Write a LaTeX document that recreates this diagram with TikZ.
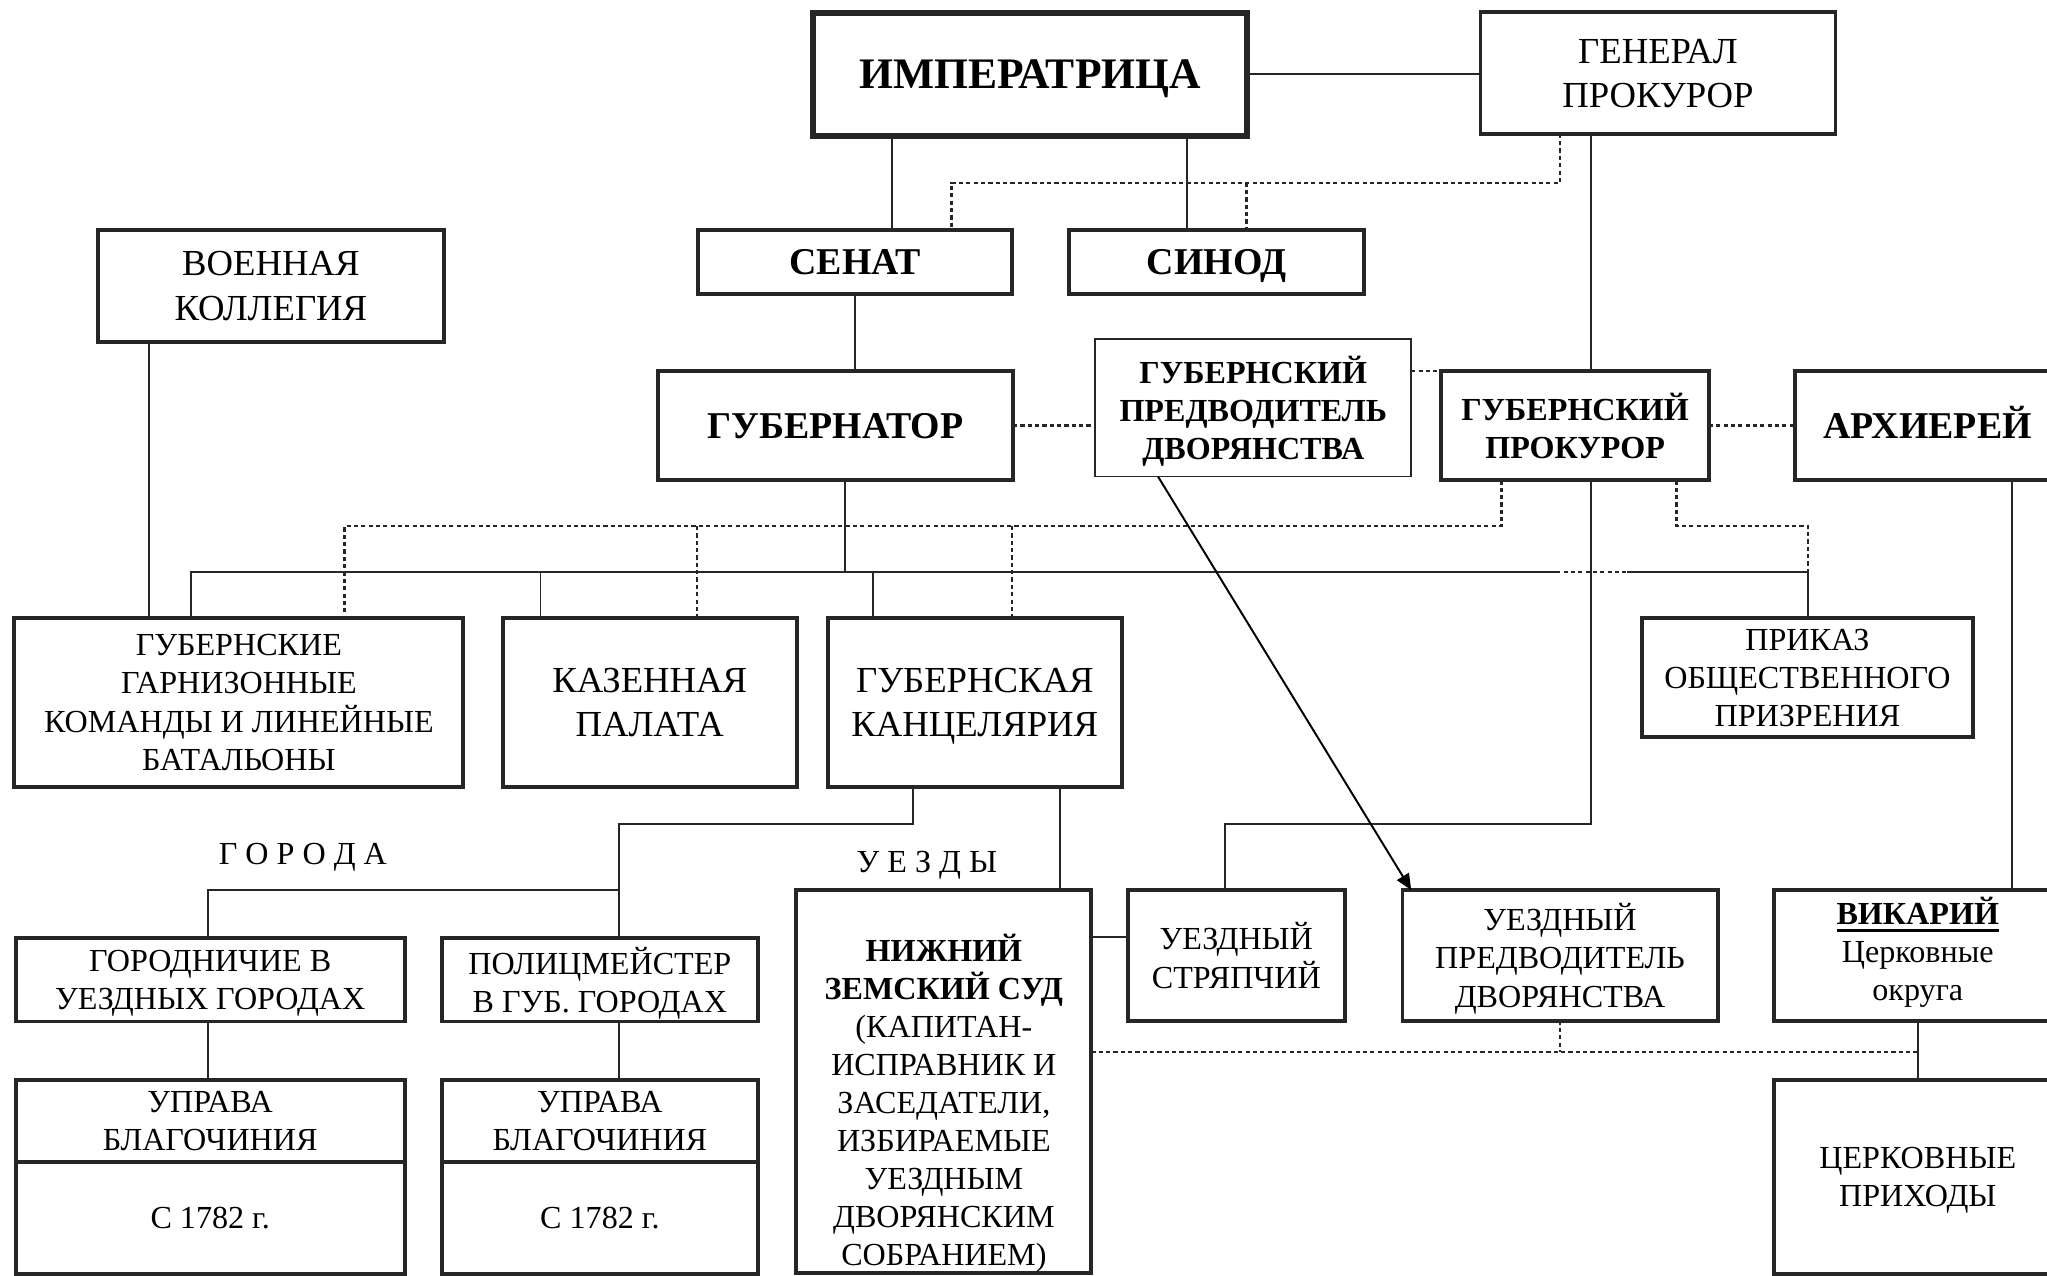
\documentclass[tikz,border=0pt]{standalone}
\usepackage{fontspec}
\setmainfont{Liberation Serif}
\usetikzlibrary{arrows.meta, positioning}

\newcommand{\smalltxt}{\fontsize{14}{16.6}\selectfont}
\newcommand{\bigtxt}{\fontsize{16}{19.3}\selectfont}
\newcommand{\headtxt}{\fontsize{16.5}{19.3}\selectfont\bfseries}
\newcommand{\toptxt}{\fontsize{19}{22}\selectfont\bfseries}
\newsavebox{\ulbox}
\newcommand{\thickul}[1]{\sbox{\ulbox}{#1}\rlap{\rule[-3.4pt]{\wd\ulbox}{1.3pt}}\usebox{\ulbox}}

\begin{document}
\begin{tikzpicture}[x=0.02cm, y=-0.02cm]

    % Define styles for the boxes and the connectors
    \tikzstyle{organ} = [draw=black!85, line width=1.7pt, rectangle, outer sep=0pt, inner sep=1pt, align=center, text depth=0pt, font=\smalltxt]
    \tikzstyle{bigorgan} = [organ, font=\bigtxt]
    \tikzstyle{headorgan} = [organ, font=\headtxt, text height=11pt]
    \tikzstyle{thinorgan} = [organ, line width=0.85pt, font=\smalltxt\bfseries]
    \tikzstyle{link} = [-, draw=black!85, line width=0.85pt]
    \tikzstyle{control} = [-, draw=black!85, line width=1.1pt, dash pattern=on 1.8pt off 1.4pt]
    \tikzstyle{elect} = [-{Triangle[length=7pt, width=6pt]}, draw=black, line width=0.85pt]
    \tikzstyle{caption} = [font=\smalltxt, inner sep=0pt, align=center]

    \useasboundingbox (0,0) rectangle (1568,977);

    % upper level
    \node[organ, line width=2.6pt, font=\toptxt, text height=12.6pt, minimum width=6.64cm, minimum height=1.88cm] (imp) at (789,57) {ИМПЕРАТРИЦА};
    \node[bigorgan, minimum width=5.44cm, minimum height=1.86cm] (gen) at (1270,56) {ГЕНЕРАЛ\\ПРОКУРОР};
    \node[headorgan, minimum width=4.82cm, minimum height=0.98cm] (senat) at (655,200.5) {СЕНАТ};
    \node[headorgan, minimum width=4.52cm, minimum height=0.98cm] (sinod) at (932,200.5) {СИНОД};
    \node[bigorgan, minimum width=5.30cm, minimum height=1.72cm] (voen) at (207.5,219) {ВОЕННАЯ\\КОЛЛЕГИЯ};

    % province
    \node[headorgan, minimum width=5.44cm, minimum height=1.68cm] (gubern) at (640,326) {ГУБЕРНАТОР};
    \node[thinorgan, minimum width=4.84cm, minimum height=2.10cm] (gpred) at (960,312.5) {ГУБЕРНСКИЙ\\ПРЕДВОДИТЕЛЬ\\ДВОРЯНСТВА};
    \node[organ, font=\smalltxt\bfseries, minimum width=4.10cm, minimum height=1.68cm] (gprok) at (1206.5,326) {ГУБЕРНСКИЙ\\ПРОКУРОР};
    \node[headorgan, minimum width=4.06cm, minimum height=1.68cm] (arh) at (1476.5,326) {АРХИЕРЕЙ};
    \node[organ, minimum width=6.88cm, minimum height=2.59cm] (garn) at (183,538) {ГУБЕРНСКИЕ\\ГАРНИЗОННЫЕ\\КОМАНДЫ И ЛИНЕЙНЫЕ\\БАТАЛЬОНЫ};
    \node[bigorgan, minimum width=4.51cm, minimum height=2.59cm] (kazen) at (497.7,538) {КАЗЕННАЯ\\ПАЛАТА};
    \node[bigorgan, minimum width=4.51cm, minimum height=2.59cm] (kanc) at (746.7,538) {ГУБЕРНСКАЯ\\КАНЦЕЛЯРИЯ};
    \node[organ, minimum width=5.06cm, minimum height=1.83cm] (prikaz) at (1384.5,519) {ПРИКАЗ\\ОБЩЕСТВЕННОГО\\ПРИЗРЕНИЯ};

    % towns and districts
    \node[caption] (towns) at (232,657) {Г О Р О Д А};
    \node[caption] (uezdy) at (710,663) {У Е З Д Ы};
    \node[organ, minimum width=5.96cm, minimum height=1.28cm] (gorod) at (161,750.5) {ГОРОДНИЧИЕ В\\УЕЗДНЫХ ГОРОДАХ};
    \node[organ, minimum width=4.84cm, minimum height=1.28cm] (polic) at (459.5,750.5) {ПОЛИЦМЕЙСТЕР\\В ГУБ. ГОРОДАХ};
    \node[organ, minimum width=5.96cm, minimum height=1.25cm] (upr1) at (161,858.7) {УПРАВА\\БЛАГОЧИНИЯ};
    \node[organ, minimum width=5.96cm, minimum height=1.72cm, below=0pt of upr1] (since1) {С 1782 г.};
    \node[organ, minimum width=4.84cm, minimum height=1.25cm] (upr2) at (459.5,858.7) {УПРАВА\\БЛАГОЧИНИЯ};
    \node[organ, minimum width=4.84cm, minimum height=1.72cm, below=0pt of upr2] (since2) {С 1782 г.};
    \node[organ, minimum width=4.52cm, minimum height=5.87cm] (nizh) at (723,828.5) {};
    \node[caption] (nizhtxt) at (723,845) {\textbf{НИЖНИЙ}\\\textbf{ЗЕМСКИЙ СУД}\\(КАПИТАН-\\ИСПРАВНИК И\\ЗАСЕДАТЕЛИ,\\ИЗБИРАЕМЫЕ\\УЕЗДНЫМ\\ДВОРЯНСКИМ\\СОБРАНИЕМ)};
    \node[organ, minimum width=3.32cm, minimum height=2.00cm] (stryap) at (947,731.8) {УЕЗДНЫЙ\\СТРЯПЧИЙ};
    \node[organ, minimum width=4.83cm, minimum height=2.00cm] (upred) at (1195,731.8) {УЕЗДНЫЙ\\ПРЕДВОДИТЕЛЬ\\ДВОРЯНСТВА};
    \node[organ, text depth=5.6pt, minimum width=4.40cm, minimum height=2.00cm] (vikar) at (1469,731.8) {\thickul{\textbf{ВИКАРИЙ}}\\Церковные\\округа};
    \node[organ, minimum width=4.40cm, minimum height=2.97cm] (prihod) at (1469,901.6) {ЦЕРКОВНЫЕ\\ПРИХОДЫ};

    % points where the connectors run or turn
    \coordinate (impsenat) at (683,0);
    \coordinate (impsinod) at (909,0);
    \coordinate (genprok) at (1219,0);
    \coordinate (voengarn) at (114,0);
    \coordinate (busmid) at (647,438);
    \coordinate (busleft) at (146,438);
    \coordinate (buskazen) at (414,438);
    \coordinate (buskanc) at (669,438);
    \coordinate (hopleft) at (1192,438);
    \coordinate (hopright) at (1246,438);
    \coordinate (busright) at (1385,438);
    \coordinate (prokturn) at (1219,631);
    \coordinate (stryturn) at (938,631);
    \coordinate (kancturn) at (699,631);
    \coordinate (policturn) at (474,631);
    \coordinate (townsbus) at (474,682);
    \coordinate (townsturn) at (159,682);
    \coordinate (uezdline) at (812,0);
    \coordinate (strylink) at (0,718);
    \coordinate (arhline) at (1541,0);
    \coordinate (gendot) at (1195,140);
    \coordinate (senatdot) at (729,140);
    \coordinate (sinoddot) at (955,140);
    \coordinate (prokdotL) at (1150,403);
    \coordinate (garndot) at (264,403);
    \coordinate (kazendot) at (534,403);
    \coordinate (kancdot) at (775,403);
    \coordinate (prokdotR) at (1284,403);
    \coordinate (prikazdot) at (1385,403);
    \coordinate (uezddot) at (1469,806);
    \coordinate (arrstart) at (887,0);
    \coordinate (arrend) at (1081,0);

    % solid lines
    \draw[link] (imp.east) -- (imp.east -| gen.west);
    \draw[link] (imp.south -| impsenat) -- (senat.north -| impsenat);
    \draw[link] (imp.south -| impsinod) -- (sinod.north -| impsinod);
    \draw[link] (gen.south -| genprok) -- (gprok.north -| genprok);
    \draw[link] (senat.south) -- (gubern.north -| senat.south);
    \draw[link] (voen.south -| voengarn) -- (garn.north -| voengarn);
    \draw[link] (gubern.south -| busmid) -- (busmid);
    \draw[link] (garn.north -| busleft) -- (busleft) -- (hopleft);
    \draw[control] (hopleft) -- (hopright);
    \draw[link] (hopright) -- (busright) -- (prikaz.north -| busright);
    \draw[link] (kazen.north -| buskazen) -- (buskazen);
    \draw[link] (kanc.north -| buskanc) -- (buskanc);
    \draw[link] (gprok.south -| prokturn) -- (prokturn) -- (stryturn) -- (stryap.north -| stryturn);
    \draw[link] (kanc.south -| kancturn) -- (kancturn) -- (policturn) -- (polic.north -| policturn);
    \draw[link] (townsbus) -- (townsturn) -- (gorod.north -| townsturn);
    \draw[link] (kanc.south -| uezdline) -- (nizh.north -| uezdline);
    \draw[link] (nizh.east |- strylink) -- (stryap.west |- strylink);
    \draw[link] (gorod.south -| townsturn) -- (upr1.north -| townsturn);
    \draw[link] (polic.south -| policturn) -- (upr2.north -| policturn);
    \draw[link] (arh.south -| arhline) -- (vikar.north -| arhline);
    \draw[link] (vikar.south) -- (prihod.north);

    % dotted lines
    \draw[control] (gen.south -| gendot) -- (gendot) -- (senatdot) -- (senat.north -| senatdot);
    \draw[control] (sinoddot) -- (sinod.north -| sinoddot);
    \draw[control] (gubern.east) -- (gubern.east -| gpred.west);
    \draw[control] (gprok.north west -| gpred.east) -- (gprok.north west);
    \draw[control] (gprok.east) -- (arh.west);
    \draw[control] (gprok.south -| prokdotL) -- (prokdotL) -- (garndot) -- (garn.north -| garndot);
    \draw[control] (kazendot) -- (kazen.north -| kazendot);
    \draw[control] (kancdot) -- (kanc.north -| kancdot);
    \draw[control] (gprok.south -| prokdotR) -- (prokdotR) -- (prikazdot) -- (busright);
    \draw[control] (nizh.east |- uezddot) -- (uezddot);
    \draw[control] (upred.south) -- (upred.south |- uezddot);

    \draw[elect] (gpred.south -| arrstart) -- (upred.north -| arrend);

\end{tikzpicture}
\end{document}
